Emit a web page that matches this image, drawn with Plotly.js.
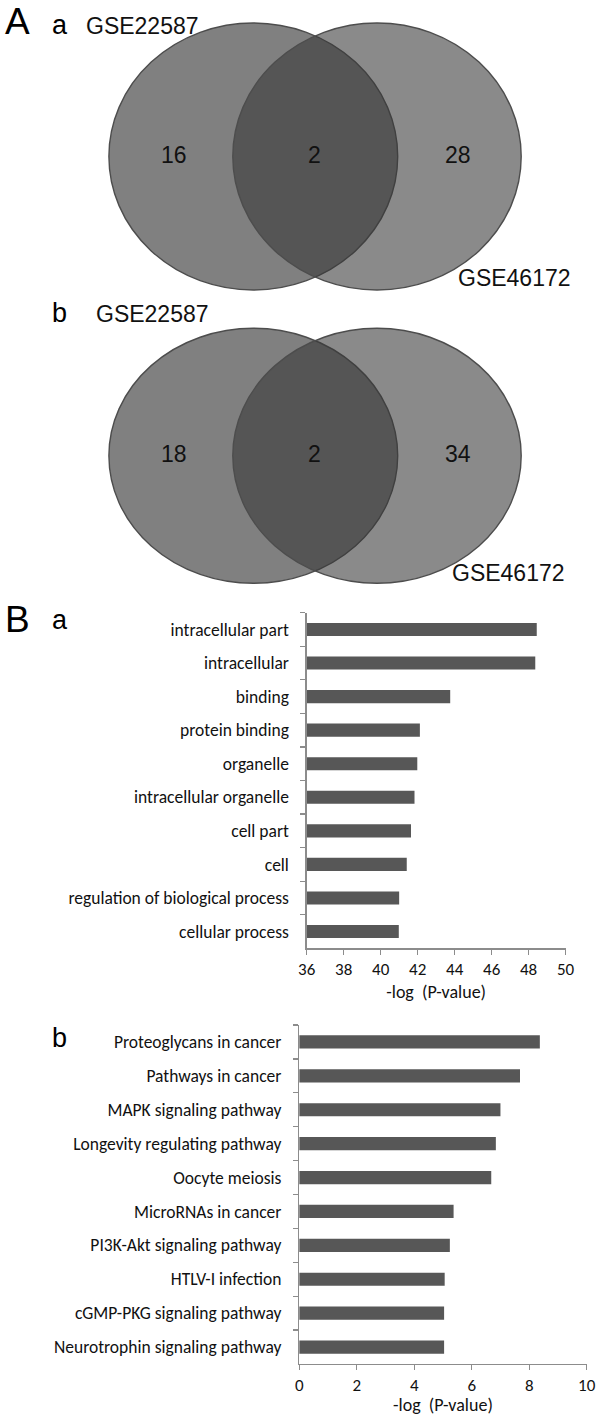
<!DOCTYPE html>
<html>
<head>
<meta charset="utf-8">
<script src="https://cdn.plot.ly/plotly-3.0.1.min.js"></script>
<style>html,body{margin:0;padding:0;background:#fff;}#chart{width:602px;height:1416px;}</style>
</head>
<body>
<div id="chart"></div>
<script>
// ---- Data ----
var vennSets = ["GSE22587", "GSE46172"];
var vennA = [16, 2, 28];   // only GSE22587, both, only GSE46172
var vennB = [18, 2, 34];

var goTerms = ["intracellular part", "intracellular", "binding", "protein binding", "organelle",
  "intracellular organelle", "cell part", "cell", "regulation of biological process", "cellular process"];
var goValues = [48.44, 48.36, 43.76, 42.12, 41.98, 41.83, 41.64, 41.41, 41.00, 40.98];
var goTicks = [36, 38, 40, 42, 44, 46, 48, 50];

var keggTerms = ["Proteoglycans in cancer", "Pathways in cancer", "MAPK signaling pathway",
  "Longevity regulating pathway", "Oocyte meiosis", "MicroRNAs in cancer", "PI3K-Akt signaling pathway",
  "HTLV-I infection", "cGMP-PKG signaling pathway", "Neurotrophin signaling pathway"];
var keggValues = [8.37, 7.68, 7.00, 6.84, 6.68, 5.37, 5.24, 5.06, 5.04, 5.04];

var xTitle = "-log  (P-value)";

// ---- Layout helpers ----
var W = 602, H = 1416;
function px(x){ return x / W; }
function py(y){ return 1 - y / H; }

var barFont = {family: "Carlito, Lato, 'Open Sans', sans-serif", size: 17.5, color: "#111"};
var tickFont = {family: "Carlito, Lato, 'Open Sans', sans-serif", size: 17, color: "#111"};
var titleFont = {family: "Carlito, Lato, 'Open Sans', sans-serif", size: 18, color: "#111"};
var vennFont = {family: "'Liberation Sans', Arial, sans-serif", size: 23, color: "#111"};
var axisColor = "#8c8c8c";
var barColor = "#575757";
var goBase = goTicks[0];

var traces = [
  {type: "bar", orientation: "h", y: goTerms, xaxis: "x", yaxis: "y",
   marker: {color: barColor}, hoverinfo: "x+y", showlegend: false},
  {type: "bar", orientation: "h", y: keggTerms, x: keggValues, xaxis: "x2", yaxis: "y2",
   marker: {color: barColor}, hoverinfo: "x+y", showlegend: false}
];
// GO bars start at the axis minimum (36): length = value - 36
traces[0].x = goValues.map(function(v){ return v - goBase; });

function barYAxis(domain, anchor){
  return {domain: domain, anchor: anchor, type: "category", autorange: false, range: [9.5, -0.5],
    showline: true, linecolor: axisColor, linewidth: 1.3, ticks: "outside", tickson: "boundaries",
    ticklen: 5, tickcolor: axisColor, tickwidth: 1.3, showgrid: false, zeroline: false,
    tickfont: barFont, ticklabelstandoff: 13, fixedrange: true};
}
function barXAxis(domain, range, anchor){
  return {domain: domain, range: range, dtick: 2, anchor: anchor, showline: true, linecolor: axisColor,
    linewidth: 1.3, ticks: "outside", ticklen: 5, tickcolor: axisColor, tickwidth: 1.3,
    showgrid: false, zeroline: false, tickfont: tickFont, fixedrange: true,
    title: {text: xTitle, font: titleFont, standoff: 6}};
}

var shapes = [];
var annotations = [];

function venn(counts, top, bottom, label1, label2){
  shapes.push({type: "circle", xref: "x3", yref: "y3", x0: 108.9, x1: 397.7, y0: top, y1: bottom,
    fillcolor: "rgb(128,128,128)", line: {color: "#4d4d4d", width: 1.4}, layer: "below"});
  shapes.push({type: "circle", xref: "x3", yref: "y3", x0: 232.8, x1: 521.2, y0: top, y1: bottom,
    fillcolor: "rgba(54,54,54,0.583)", line: {color: "#4d4d4d", width: 1.4}, layer: "below"});
  var cy = (top + bottom) / 2 - 2;
  var xs = [174, 314, 457.5];
  for (var i = 0; i < 3; i++) {
    annotations.push({xref: "x3", yref: "y3", x: xs[i], y: cy, text: String(counts[i]),
      showarrow: false, font: vennFont, xanchor: "center", yanchor: "middle"});
  }
  annotations.push({xref: "x3", yref: "y3", x: label1[0], y: label1[1], text: vennSets[0],
    showarrow: false, font: vennFont, xanchor: "left", yanchor: "middle"});
  annotations.push({xref: "x3", yref: "y3", x: label2[0], y: label2[1], text: vennSets[1],
    showarrow: false, font: vennFont, xanchor: "left", yanchor: "middle"});
}
venn(vennA, 23, 290, [84, 26], [456, 278]);
venn(vennB, 328.3, 583.3, [94, 314], [450, 573]);

var bigFont = {family: "'Liberation Sans', Arial, sans-serif", size: 37, color: "#000"};
var smallFont = {family: "'Liberation Sans', Arial, sans-serif", size: 27, color: "#000"};
function panel(text, x, y, font){
  annotations.push({xref: "paper", yref: "paper", x: px(x), y: py(y), text: text, showarrow: false,
    font: font, xanchor: "left", yanchor: "middle"});
}
panel("A", 3, 22, bigFont);
panel("a", 50, 25, smallFont);
panel("b", 50, 313, smallFont);
panel("B", 3, 619, bigFont);
panel("a", 50, 620, smallFont);
panel("b", 50, 1038, smallFont);

var layout = {
  width: W, height: H, margin: {l: 0, r: 0, t: 0, b: 0},
  paper_bgcolor: "#fff", plot_bgcolor: "rgba(0,0,0,0)", showlegend: false, bargap: 0.61,
  xaxis: barXAxis([px(306.7), px(565.6)], [0, goTicks[goTicks.length - 1] - goBase], "y"),
  yaxis: barYAxis([py(948.3), py(612.7)], "x"),
  xaxis2: barXAxis([px(299.2), px(586.7)], [0, 10], "y2"),
  yaxis2: barYAxis([py(1364), py(1025)], "x2"),
  xaxis3: {domain: [0, 1], range: [0, 602], visible: false, fixedrange: true, anchor: "y3"},
  yaxis3: {domain: [py(600), 1], range: [600, 0], visible: false, fixedrange: true, anchor: "x3"},
  shapes: shapes, annotations: annotations
};
layout.xaxis.tickvals = goTicks.map(function(t){ return t - goBase; });
layout.xaxis.ticktext = goTicks.map(String);

Plotly.newPlot("chart", traces, layout, {staticPlot: true, displayModeBar: false});
</script>
</body>
</html>
